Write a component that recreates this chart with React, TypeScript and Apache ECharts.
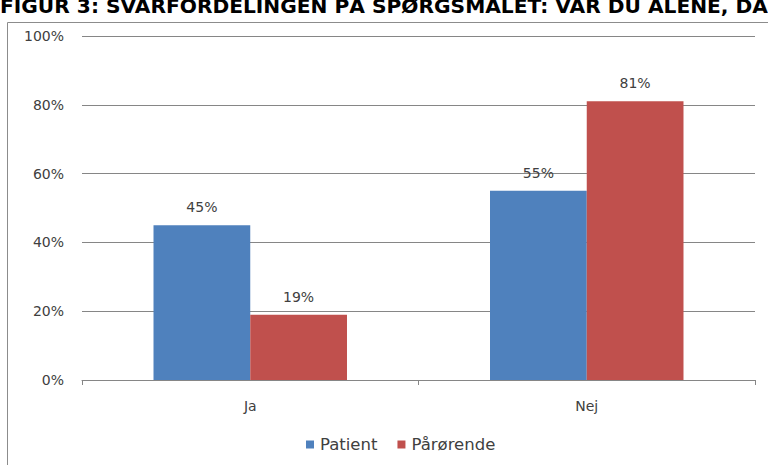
import React, { useEffect, useRef } from "react";
import * as echarts from "echarts";

const titleText = "FIGUR 3: SVARFORDELINGEN PÅ SPØRGSMÅLET: VAR DU ALENE, DA";
const categories = ["Ja", "Nej"];
const patientValues = [45, 55];
const paaroerendeValues = [19, 81];
const seriesNames = ["Patient", "Pårørende"];

export default function App() {
  const ref = useRef<HTMLDivElement>(null);
  useEffect(() => {
    if (!ref.current) return;
    const chart = echarts.init(ref.current, null, { renderer: "svg" });
    const font = "Verdana, 'DejaVu Sans', sans-serif";
    const labelStyle = {
      show: true,
      position: "top",
      formatter: "{c}%",
      fontSize: 14,
      color: "#404040",
      distance: 11,
      fontFamily: font,
    };
    chart.setOption({
      animation: false,
      backgroundColor: "#ffffff",
      textStyle: { fontFamily: font },
      graphic: [
        {
          type: "rect",
          shape: { x: 7.5, y: 22.5, width: 800, height: 500 },
          style: { fill: "none", stroke: "#8c8c8c", lineWidth: 1 },
          silent: true,
        },
        {
          type: "text",
          x: 0,
          y: -4,
          style: {
            text: titleText,
            fontFamily: font,
            fontWeight: "bold",
            fontSize: 20.2,
            fill: "#000000",
          },
        },
      ],
      grid: { left: 82, right: 13, top: 36, bottom: 85 },
      legend: {
        top: 431,
        left: 301,
        itemWidth: 8,
        itemHeight: 8,
        itemGap: 20,
        icon: "rect",
        textStyle: { fontSize: 16.5, color: "#404040", fontFamily: font, padding: [0, 0, 0, 1] },
        data: seriesNames,
      },
      xAxis: {
        type: "category",
        data: categories,
        axisLine: { lineStyle: { color: "#868686" } },
        axisTick: { show: true, length: 5, lineStyle: { color: "#868686" } },
        axisLabel: { fontSize: 14, color: "#404040", margin: 19, fontFamily: font },
      },
      yAxis: {
        type: "value",
        min: 0,
        max: 100,
        interval: 20,
        axisLine: { show: false },
        axisTick: { show: false },
        splitLine: { lineStyle: { color: "#868686" } },
        axisLabel: { formatter: "{value}%", fontSize: 14, color: "#404040", margin: 18, fontFamily: font },
      },
      series: [
        {
          name: seriesNames[0],
          type: "bar",
          data: patientValues,
          barGap: "0%",
          barCategoryGap: "42.5%",
          itemStyle: { color: "#4F81BD" },
          label: labelStyle,
        },
        {
          name: seriesNames[1],
          type: "bar",
          data: paaroerendeValues,
          barGap: "0%",
          barCategoryGap: "42.5%",
          itemStyle: { color: "#C0504D" },
          label: labelStyle,
        },
      ],
    });
    return () => chart.dispose();
  }, []);
  return (
    <div
      ref={ref}
      style={{ position: "fixed", left: 0, top: 0, width: 768, height: 465 }}
    />
  );
}
